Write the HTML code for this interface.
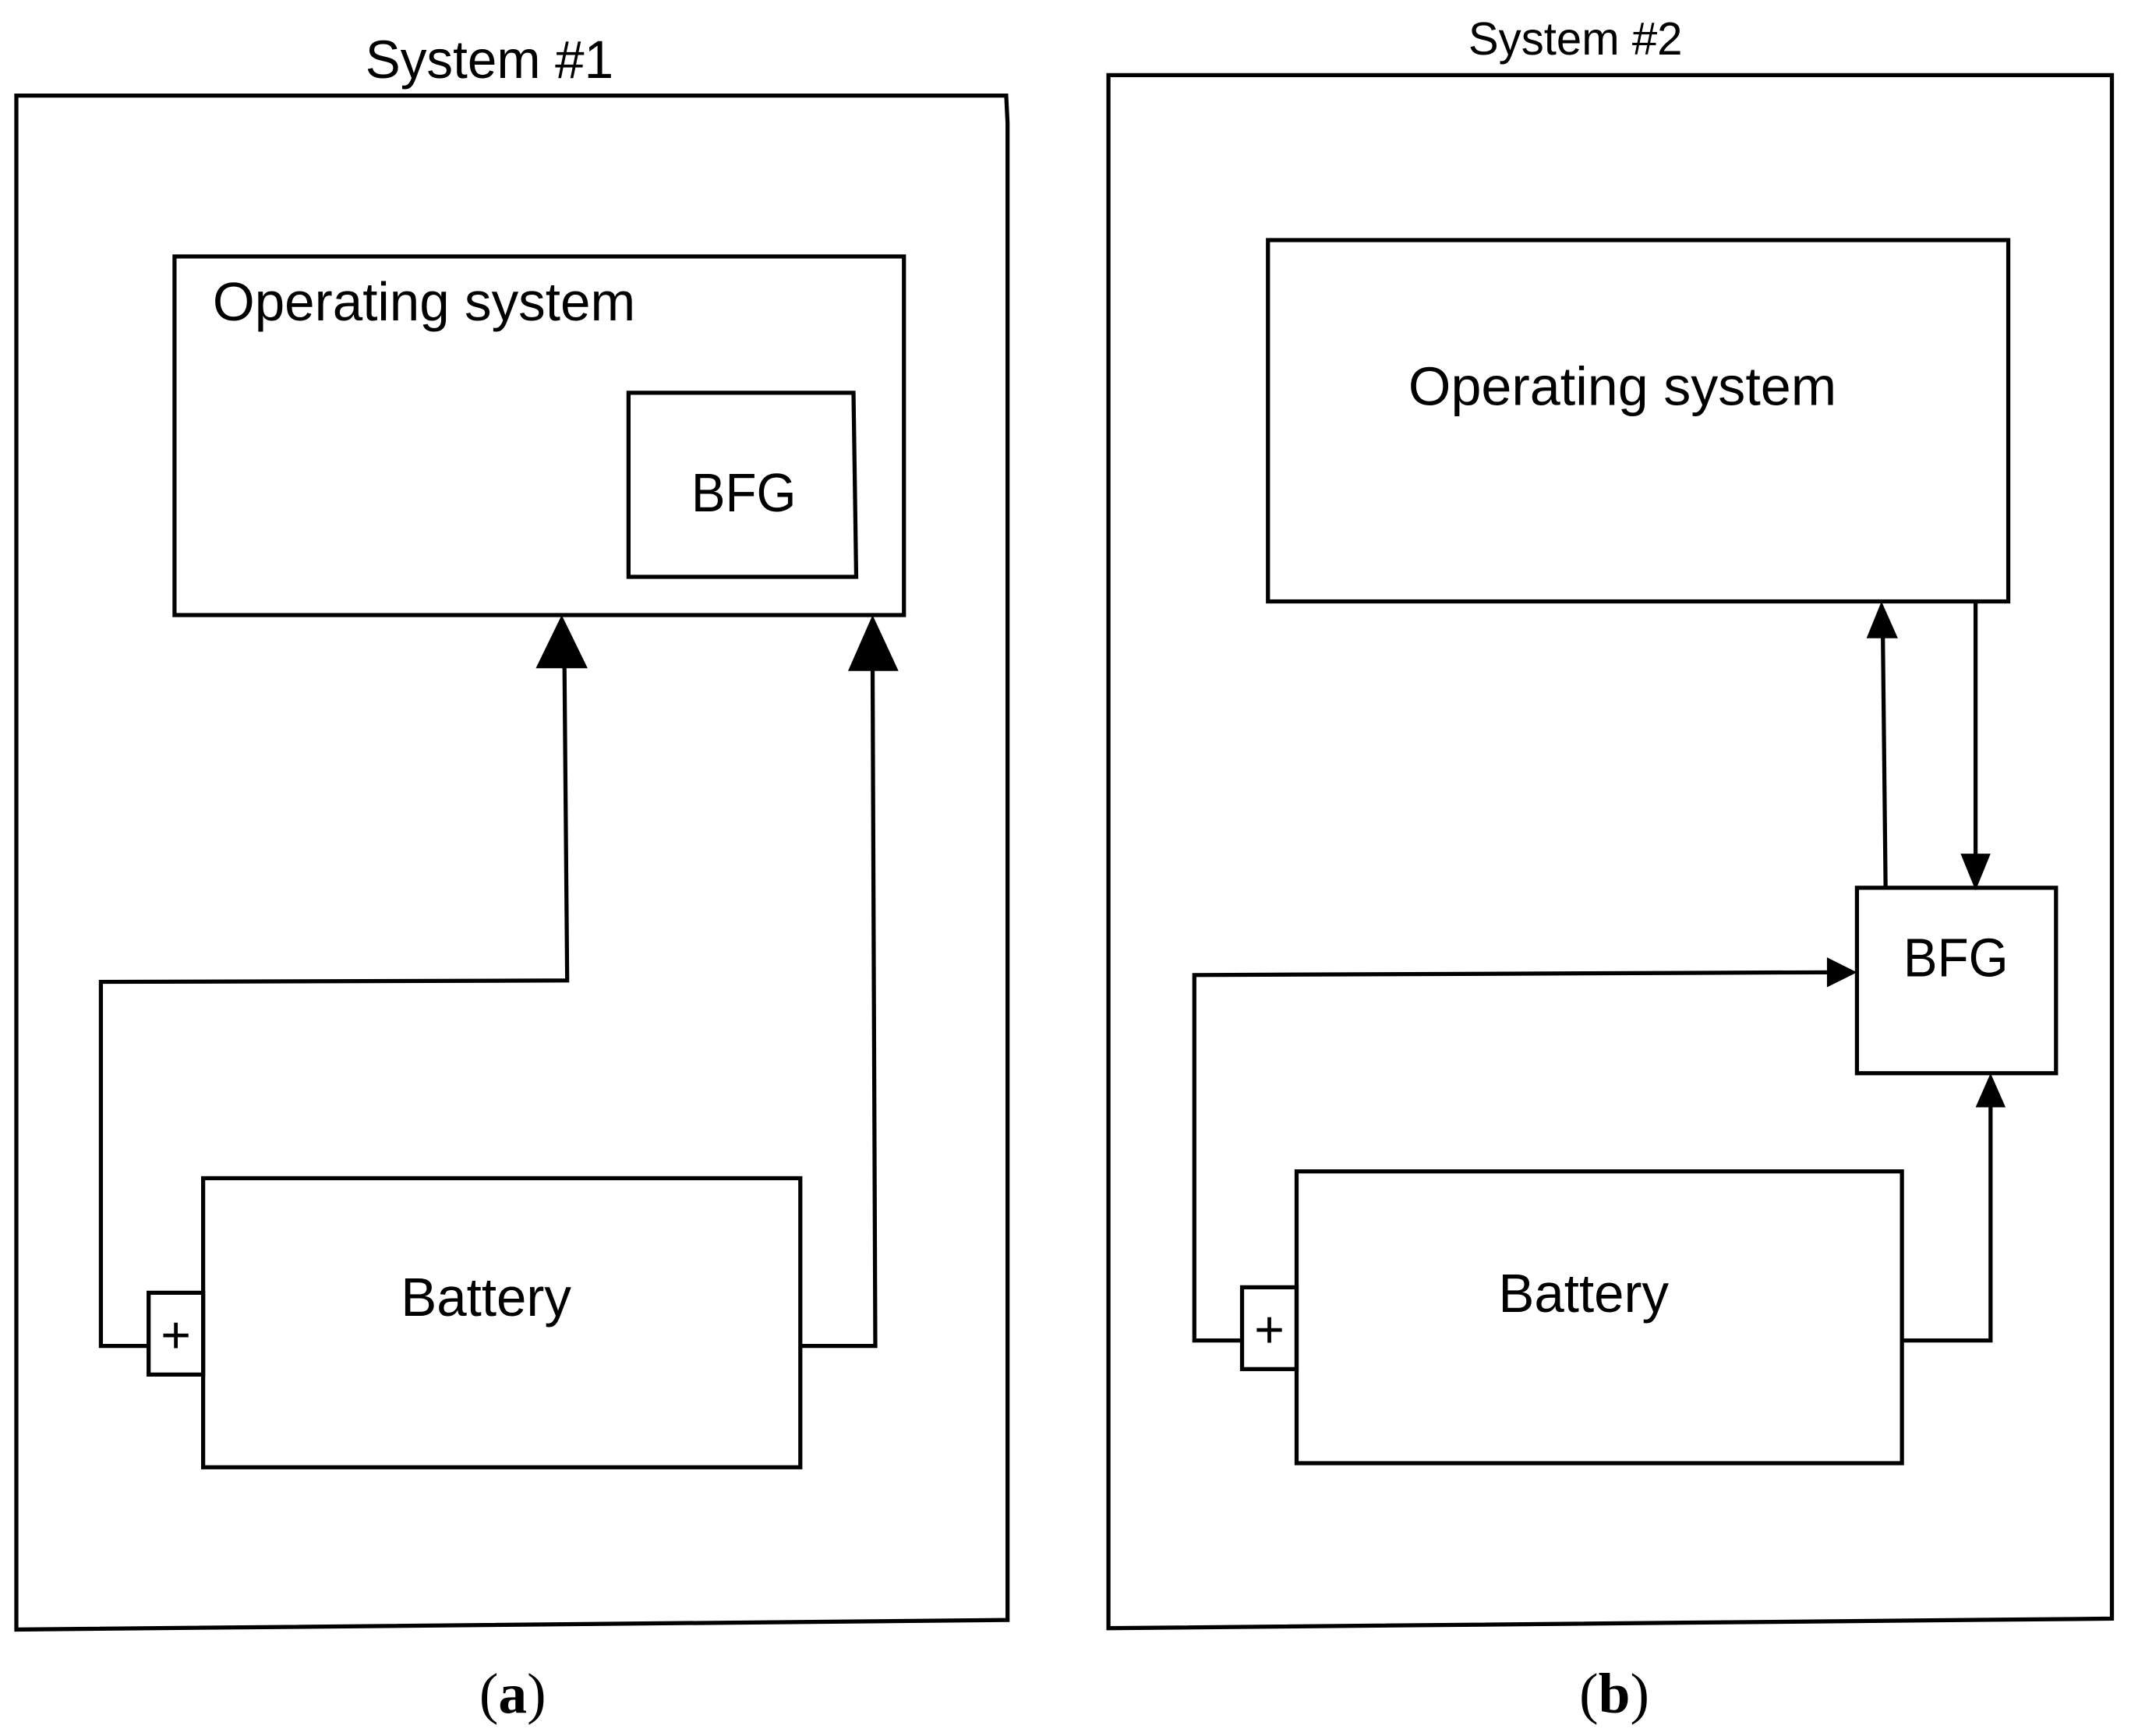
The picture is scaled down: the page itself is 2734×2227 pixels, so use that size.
<!DOCTYPE html>
<html><head><style>html,body{margin:0;padding:0;background:#fff;}svg{display:block}</style></head>
<body>
<svg width="2734" height="2227" viewBox="0 0 1563 1273" xmlns="http://www.w3.org/2000/svg">
<rect width="1563" height="1273" fill="#fff"/>
<g fill="none" stroke="#000" stroke-width="3" stroke-linejoin="miter">
<path d="M12,70 L738,70 L739,90 L739,1188 L12,1195 Z"/>
<rect x="128" y="188" width="535" height="263"/>
<path d="M461,288 L626,288 L628,423 L461,423 Z"/>
<rect x="149" y="864" width="438" height="212"/>
<rect x="109" y="948" width="40" height="60"/>
<path d="M109,987 L74,987 L74,720 L416,719 L414,488"/>
<path d="M587,987 L642,987 L640,488"/>
<path d="M813,55 L1549,55 L1549,1187 L813,1194 Z"/>
<rect x="930" y="176" width="543" height="265"/>
<rect x="1362" y="651" width="146" height="136"/>
<rect x="951" y="859" width="444" height="214"/>
<rect x="911" y="944" width="40" height="60"/>
<path d="M1383,651 L1381,466"/>
<path d="M1449,441 L1449,628"/>
<path d="M911,983 L876,983 L876,715 L1340,713"/>
<path d="M1395,983 L1460,983 L1460,810"/>
</g>
<g fill="#000">
<polygon points="412,451 393,490 431,490"/>
<polygon points="640,451 622,492 659,492"/>
<polygon points="1380,441 1369,468 1392,468"/>
<polygon points="1449,653 1438,626 1460,626"/>
<polygon points="1362,713 1340,702 1340,724"/>
<polygon points="1460,787 1449,812 1471,812"/>
</g>
<g font-family="'Liberation Sans', sans-serif" fill="#000" lengthAdjust="spacingAndGlyphs">
<text x="268" y="57" font-size="39" textLength="182" lengthAdjust="spacingAndGlyphs">System #1</text>
<text x="156" y="235" font-size="40" textLength="310" lengthAdjust="spacingAndGlyphs">Operating system</text>
<text x="507" y="375" font-size="40" textLength="77" lengthAdjust="spacingAndGlyphs">BFG</text>
<text x="294" y="965" font-size="40" textLength="125" lengthAdjust="spacingAndGlyphs">Battery</text>
<text x="129" y="992" font-size="38" text-anchor="middle">+</text>
<text x="1077" y="40" font-size="34" textLength="157" lengthAdjust="spacingAndGlyphs">System #2</text>
<text x="1033" y="297" font-size="40" textLength="314" lengthAdjust="spacingAndGlyphs">Operating system</text>
<text x="1396" y="716" font-size="40" textLength="77" lengthAdjust="spacingAndGlyphs">BFG</text>
<text x="1099" y="962" font-size="40" textLength="125" lengthAdjust="spacingAndGlyphs">Battery</text>
<text x="931" y="988" font-size="38" text-anchor="middle">+</text>
</g>
<g font-family="'Liberation Serif', serif" fill="#000" font-size="42" text-anchor="middle">
<text x="376" y="1256">(<tspan font-weight="bold">a</tspan>)</text>
<text x="1184" y="1256">(<tspan font-weight="bold">b</tspan>)</text>
</g>
</svg>
</body></html>
